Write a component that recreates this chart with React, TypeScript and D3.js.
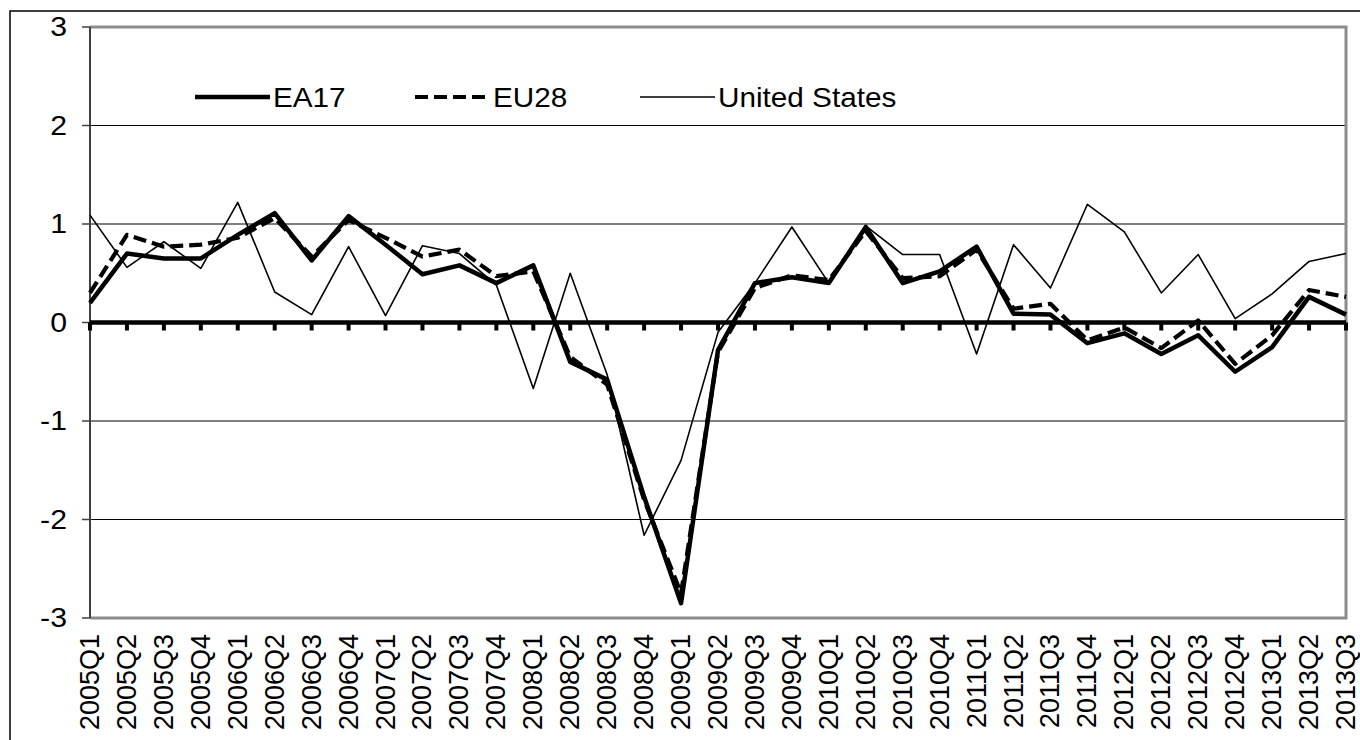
import React from 'react';
import * as d3 from 'd3';

const quarters = [
  '2005Q1', '2005Q2', '2005Q3', '2005Q4',
  '2006Q1', '2006Q2', '2006Q3', '2006Q4',
  '2007Q1', '2007Q2', '2007Q3', '2007Q4',
  '2008Q1', '2008Q2', '2008Q3', '2008Q4',
  '2009Q1', '2009Q2', '2009Q3', '2009Q4',
  '2010Q1', '2010Q2', '2010Q3', '2010Q4',
  '2011Q1', '2011Q2', '2011Q3', '2011Q4',
  '2012Q1', '2012Q2', '2012Q3', '2012Q4',
  '2013Q1', '2013Q2', '2013Q3',
];

const ea17 = [
  0.2, 0.7, 0.65, 0.65, 0.89, 1.11, 0.63, 1.08, 0.79, 0.49, 0.58, 0.4,
  0.58, -0.4, -0.58, -1.77, -2.85, -0.28, 0.4, 0.46, 0.4, 0.97, 0.4, 0.52,
  0.77, 0.09, 0.08, -0.21, -0.11, -0.32, -0.13, -0.5, -0.25, 0.26, 0.08,
];

const eu28 = [
  0.3, 0.89, 0.77, 0.79, 0.86, 1.06, 0.67, 1.04, 0.86, 0.67, 0.74, 0.47,
  0.52, -0.35, -0.63, -1.8, -2.75, -0.3, 0.35, 0.48, 0.43, 0.93, 0.45, 0.47,
  0.74, 0.14, 0.19, -0.18, -0.05, -0.26, 0.02, -0.42, -0.13, 0.33, 0.26,
];

const unitedStates = [
  1.09, 0.56, 0.82, 0.55, 1.22, 0.31, 0.08, 0.77, 0.07, 0.78, 0.7, 0.38,
  -0.67, 0.5, -0.53, -2.16, -1.4, -0.1, 0.4, 0.97, 0.4, 0.98, 0.69, 0.69,
  -0.32, 0.79, 0.35, 1.2, 0.92, 0.3, 0.69, 0.04, 0.29, 0.62, 0.7,
];

const yTicks = [-3, -2, -1, 0, 1, 2, 3];

const font = '"Liberation Sans", Arial, sans-serif';

export default function App() {
  const width = 1360;
  const height = 740;
  const margin = { top: 27, right: 14, bottom: 122, left: 90 };

  const x = d3.scalePoint<string>()
    .domain(quarters)
    .range([margin.left, width - margin.right]);
  const y = d3.scaleLinear()
    .domain([-3, 3])
    .range([height - margin.bottom, margin.top]);

  const line = d3.line<number>()
    .x((_, i) => x(quarters[i]) as number)
    .y((d) => y(d));

  const series = [
    { name: 'EA17', values: ea17, width: 4.5, dash: undefined, lx: 195 },
    { name: 'EU28', values: eu28, width: 4.2, dash: '13,6', lx: 415 },
    { name: 'United States', values: unitedStates, width: 1.6, dash: undefined, lx: 640 },
  ];

  const x0 = margin.left;
  const x1 = width - margin.right;

  return (
    <svg width={width} height={height}
      style={{ position: 'absolute', left: 0, top: 0, background: '#fff' }}
      fontFamily={font}>
      {/* outer frame */}
      <rect x={10} y={11} width={1400} height={800} fill="none" stroke="#000" strokeWidth={1.5} />

      {/* gridlines */}
      {yTicks.filter((t) => t !== 0 && Math.abs(t) !== 3).map((t) => (
        <line key={t} x1={x0} x2={x1} y1={y(t)} y2={y(t)} stroke="#000" strokeWidth={1.2} />
      ))}

      {/* plot border (top, right, bottom) */}
      <path d={`M${x0},${y(3)}H${x1}V${y(-3)}H${x0}`} fill="none" stroke="#8c8c8c" strokeWidth={3} />

      {/* y axis */}
      <line x1={x0} x2={x0} y1={y(3)} y2={y(-3)} stroke="#404040" strokeWidth={2} />
      {yTicks.map((t) => (
        <g key={t}>
          <line x1={x0 - 8} x2={x0} y1={y(t)} y2={y(t)} stroke="#404040" strokeWidth={1.5} />
          <text transform={`translate(67,${y(t)}) scale(1.12,1)`} textAnchor="end"
            dominantBaseline="central" fontSize={27}>{t}</text>
        </g>
      ))}

      {/* series */}
      {series.map((s) => (
        <path key={s.name} d={line(s.values) || ''} fill="none" stroke="#000"
          strokeWidth={s.width} strokeDasharray={s.dash} strokeLinejoin="round" />
      ))}

      {/* zero axis with tick marks */}
      <line x1={x0} x2={x1} y1={y(0)} y2={y(0)} stroke="#000" strokeWidth={4.5} />
      {quarters.map((q) => (
        <rect key={q} x={(x(q) as number) - 2} y={y(0)} width={4} height={8} fill="#000" />
      ))}

      {/* x labels */}
      {quarters.map((q) => (
        <text key={q} transform={`translate(${x(q)},${y(-3) + 16}) rotate(-90)`}
          textAnchor="end" dominantBaseline="central" fontSize={27}>{q}</text>
      ))}

      {/* legend */}
      {series.map((s) => (
        <g key={s.name}>
          <line x1={s.lx} x2={s.lx + 75} y1={97} y2={97} stroke="#000"
            strokeWidth={s.width} strokeDasharray={s.dash} />
          <text transform={`translate(${s.lx + 78},97) scale(1.1,1)`}
            dominantBaseline="central" fontSize={27}>{s.name}</text>
        </g>
      ))}
    </svg>
  );
}
